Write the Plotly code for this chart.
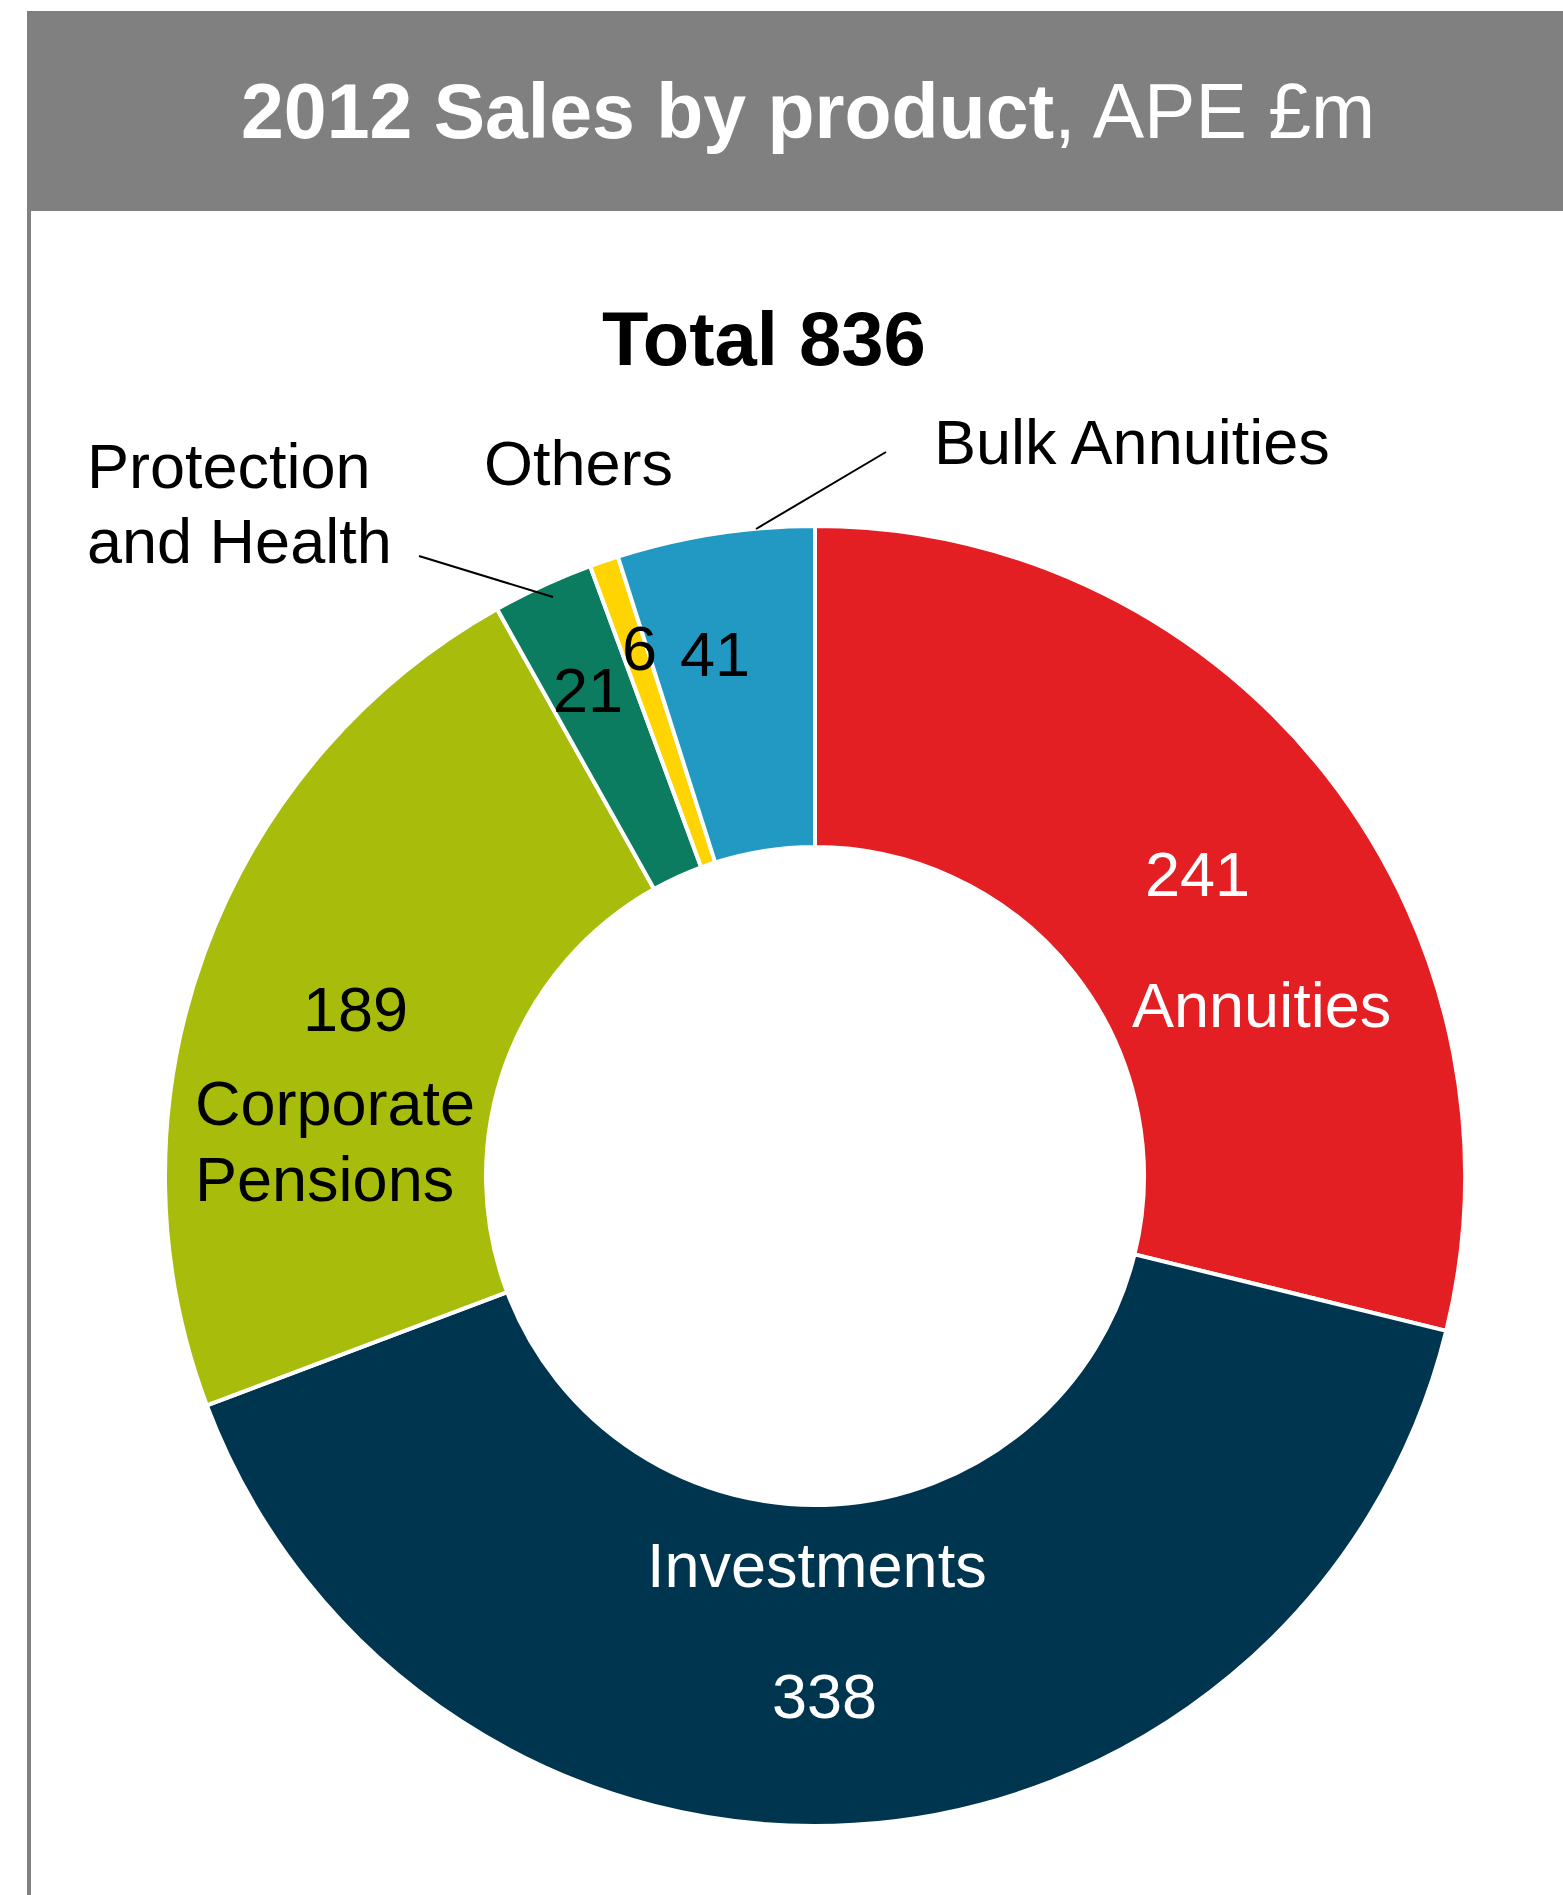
import plotly.graph_objects as go

W, H = 1563, 1895

products = ["Annuities", "Investments", "Corporate Pensions",
            "Protection and Health", "Others", "Bulk Annuities"]
ape_m = [241, 338, 189, 21, 6, 41]
colours = ["#E31F24", "#00354F", "#A8BC0B", "#0B7C60", "#FFD400", "#2199C3"]
total = sum(ape_m)

title_bold = "2012 Sales by product"
title_rest = ", APE £m"

# pie geometry in pixels
cx, cy, r_out, r_in = 815, 1176, 650, 329


def px(x):
    return x / W


def py(y):
    return 1 - y / H


fig = go.Figure(go.Pie(
    labels=products,
    values=ape_m,
    sort=False,
    direction="clockwise",
    rotation=0,
    hole=r_in / r_out,
    marker=dict(colors=colours, line=dict(color="white", width=4)),
    textinfo="none",
    hoverinfo="label+value",
    showlegend=False,
    domain=dict(x=[px(cx - r_out), px(cx + r_out)],
                y=[py(cy + r_out), py(cy - r_out)]),
))

FONT = "Liberation Sans, Arial, sans-serif"
annotations = []
DY = -3  # small vertical nudge for the text baseline


def label(text, x, y, color="black", size=63, xanchor="center"):
    annotations.append(dict(
        text=text, x=px(x), y=py(y + DY), xref="paper", yref="paper",
        xanchor=xanchor, yanchor="middle", showarrow=False,
        font=dict(family=FONT, size=size, color=color)))


# header
label(f"<b>{title_bold}</b>{title_rest}", 808, 114, color="white", size=77)
label(f"<b>Total {total}</b>", 764, 341, size=76)

val = dict(zip(products, ape_m))

# slice values
label(str(val["Annuities"]), 1197, 877, color="white")
label(str(val["Investments"]), 824, 1699, color="white")
label(str(val["Corporate Pensions"]), 355, 1012)
label(str(val["Protection and Health"]), 588, 693)
label(str(val["Others"]), 639, 651)
label(str(val["Bulk Annuities"]), 715, 657)

# slice names
label("Annuities", 1261, 1008, color="white")
label("Investments", 817, 1568, color="white")
label("Corporate", 193, 1106, xanchor="left")
label("Pensions", 193, 1182, xanchor="left")
label("Protection", 85, 469, xanchor="left")
label("and Health", 85, 544, xanchor="left")
label("Others", 578, 466)
label("Bulk Annuities", 1132, 445)

shapes = [
    # grey title band
    dict(type="rect", xref="paper", yref="paper",
         x0=px(27), x1=px(W), y0=py(211), y1=py(11),
         fillcolor="#808080", line=dict(width=0), layer="below"),
    # left frame line
    dict(type="rect", xref="paper", yref="paper",
         x0=px(27), x1=px(31), y0=py(H), y1=py(211),
         fillcolor="#808080", line=dict(width=0), layer="below"),
    # leader lines
    dict(type="line", xref="paper", yref="paper",
         x0=px(419), y0=py(556), x1=px(553), y1=py(597),
         line=dict(color="black", width=2)),
    dict(type="line", xref="paper", yref="paper",
         x0=px(756), y0=py(529), x1=px(886), y1=py(452),
         line=dict(color="black", width=2)),
]

fig.update_layout(
    width=W, height=H,
    margin=dict(l=0, r=0, t=0, b=0),
    paper_bgcolor="white", plot_bgcolor="white",
    annotations=annotations, shapes=shapes,
)

fig.write_html("out.html")
